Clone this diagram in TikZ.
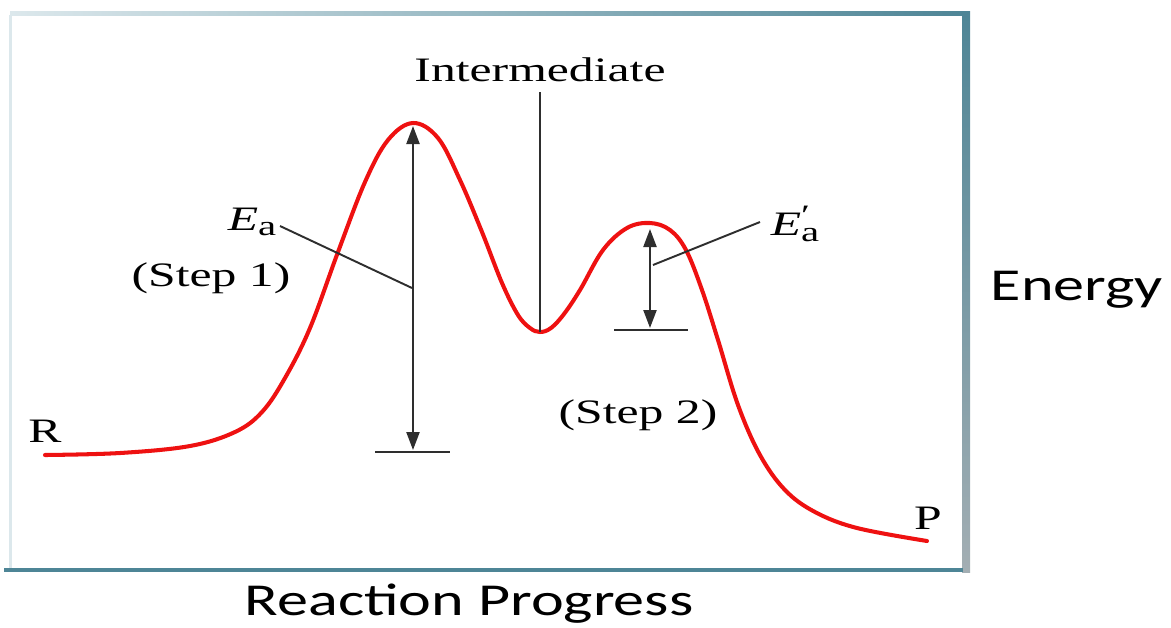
\documentclass[tikz,border=0pt]{standalone}
\usepackage{fontspec}
\usepackage{graphicx}
\setmainfont{Liberation Serif}
\newfontfamily\axisfont{Carlito}
\usetikzlibrary{arrows.meta}
\definecolor{curvered}{HTML}{EE1111}
\definecolor{linegray}{HTML}{2E2E2E}
\definecolor{frameteal}{HTML}{4E8596}
\definecolor{framelight}{HTML}{DCE8EC}
\definecolor{framegray}{HTML}{A3AEB3}
\newcommand{\widetxt}[1]{\scalebox{1.45}[1]{#1}}
\newcommand{\axistxt}[1]{\scalebox{1.36}[1]{#1}}
\newcommand{\Ea}{\textit{E}\raisebox{-0.35ex}{\fontsize{16}{18}\selectfont a}}
\newcommand{\Eaprime}{\textit{E}\makebox[0pt][l]{\raisebox{0.7ex}{\fontsize{16}{18}\selectfont\char"2032}}\raisebox{-0.35ex}{\fontsize{16}{18}\selectfont a}}

\begin{document}
\begin{tikzpicture}[
  x=0.02cm, y=-0.02cm,
  lbl/.style={font=\fontsize{19.5}{22}\selectfont, inner sep=0pt},
  axislbl/.style={font=\axisfont\fontsize{26}{30}\selectfont, inner sep=0pt},
  energy/.style={draw=curvered, line width=2.3pt, line cap=round},
  arrow/.style={{Triangle[length=0.36cm,width=0.26cm]}-{Triangle[length=0.36cm,width=0.26cm]},
                draw=linegray, line width=1.3pt},
  leader/.style={draw=linegray, line width=1.1pt},
  level/.style={draw=linegray, line width=1.3pt}
]
  \useasboundingbox (0,0) rectangle (1171,627);

  % frame
  \shade[left color=framelight, right color=frameteal] (10,11) rectangle (966,15);
  \shade[top color=frameteal, bottom color=framegray] (962,11) rectangle (970,572);
  \fill[frameteal] (4,568) rectangle (963,572);
  \fill[framelight] (9,15) rectangle (12,568);

  % reaction profile
  \draw[energy] plot[smooth, tension=0.6] coordinates {(45,455) (120,453) (190,446)
    (235,432) (262,412) (285,378) (310,328) (338,252) (365,182) (388,140) (413,123)
    (438,138) (460,180) (482,232) (502,283) (518,315) (530,328) (540,332) (551,328)
    (564,314) (580,290) (603,250) (627,228) (650,223) (670,230) (686,250) (702,290)
    (718,340) (738,405) (760,455) (785,490) (815,512) (857,528) (927,541)};

  \coordinate (peak1) at (413,126);
  \coordinate (base1) at (413,450);
  \coordinate (lev1l) at (375,452);
  \coordinate (lev1r) at (450,452);
  \coordinate (peak2) at (650,229);
  \coordinate (base2) at (650,328);
  \coordinate (lev2l) at (614,330);
  \coordinate (lev2r) at (688,330);
  \coordinate (trough) at (540,332);
  \coordinate (intertop) at (540,92);
  \coordinate (eafoot) at (412,288);
  \coordinate (eatail) at (280,226);
  \coordinate (epfoot) at (653,265);
  \coordinate (eptail) at (760,222);

  \node[lbl] (react) at (45,431) {\widetxt{R}};
  \node[lbl] (prod) at (928,518) {\widetxt{P}};
  \node[lbl] (inter) at (540,70) {\widetxt{Intermediate}};
  \node[lbl] (ea) at (252,222) {\widetxt{\Ea}};
  \node[lbl] (eap) at (795,224) {\widetxt{\Eaprime}};
  \node[lbl] (step1) at (211,278) {\widetxt{(Step 1)}};
  \node[lbl] (step2) at (638,415) {\widetxt{(Step 2)}};
  \node[axislbl] (energylbl) at (1077,290) {\axistxt{Energy}};
  \node[axislbl] (progress) at (469,604) {\axistxt{Reaction Progress}};

  \draw[level] (lev1l) -- (lev1r);
  \draw[level] (lev2l) -- (lev2r);
  \draw[arrow] (peak1) -- (base1);
  \draw[arrow] (peak2) -- (base2);
  \draw[leader] (intertop) -- (trough);
  \draw[leader] (eatail) -- (eafoot);
  \draw[leader] (eptail) -- (epfoot);
\end{tikzpicture}
\end{document}
